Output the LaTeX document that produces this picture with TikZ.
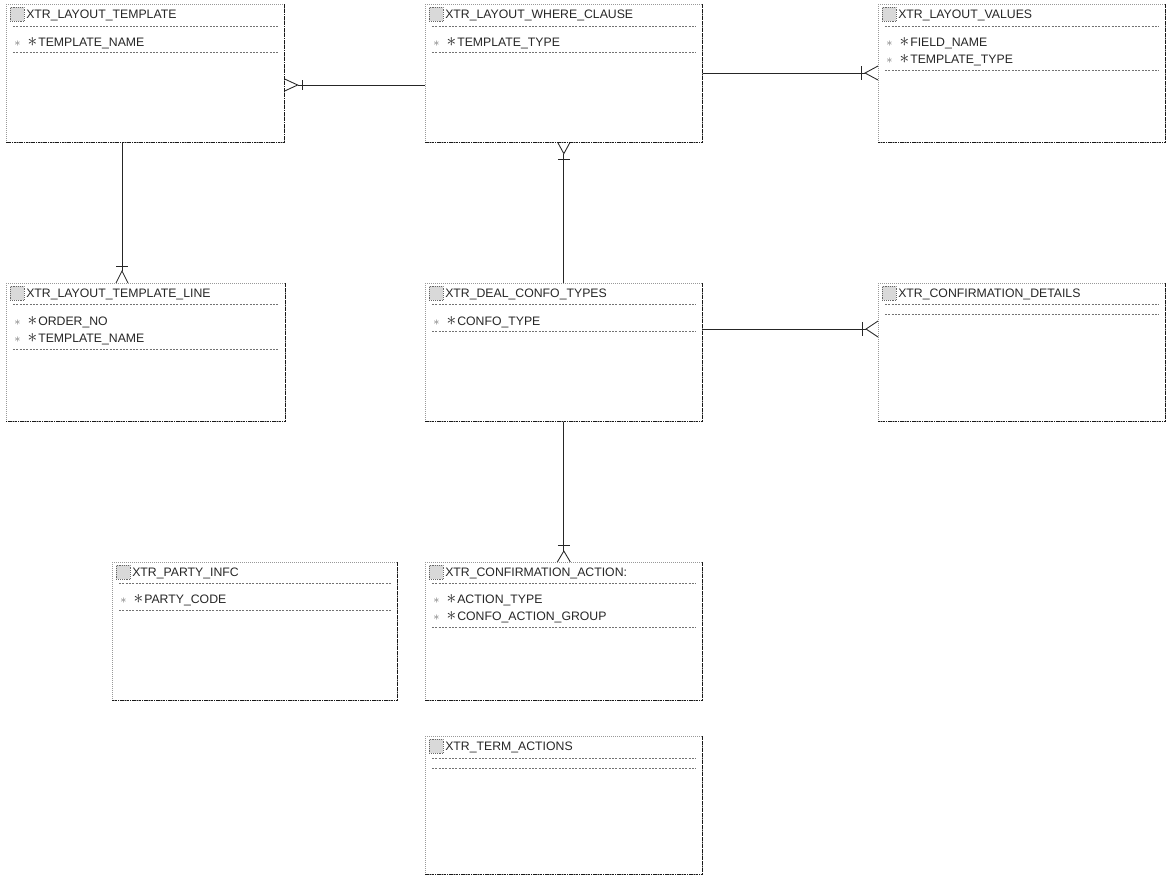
\documentclass[tikz,border=0pt]{standalone}
\usepackage{fontspec}
\setmainfont{Liberation Sans}
\usepackage{tikz}
\usetikzlibrary{calc, positioning}

\newcommand{\pkmark}{\makebox[10pt][l]{\color{black!55}\small$\ast$}\makebox[8pt][l]{\Large$\ast$}}

\begin{document}
\begin{tikzpicture}[x=0.75pt, y=-0.75pt,
    entity/.style={draw=black!40, densely dotted, line width=0.5pt, anchor=north west, inner sep=0pt,
      minimum width=207.75pt, minimum height=103.5pt,
      append after command={(\tikzlastnode.north east) edge[dark edge] (\tikzlastnode.south east)
        (\tikzlastnode.south east) edge[dark edge] (\tikzlastnode.south west)}},
    dark edge/.style={draw=black!90, solid, dash pattern=on 1.3pt off 0.5pt, line width=0.85pt},
    icon/.style={draw=black!60, densely dotted, fill=black!15, anchor=north west, inner sep=0pt, minimum size=10.5pt},
    title/.style={anchor=base west, inner sep=0pt, font=\fontsize{9.2}{11}\selectfont, text=black!85},
    attr/.style={title},
    divider/.style={draw=black!55, dash pattern=on 1.5pt off 1pt, line width=0.4pt},
    rel/.style={draw=black!85, line width=0.65pt}]

    \useasboundingbox (0,0) rectangle (1173,876);

    % Entities
    % XTR_LAYOUT_TEMPLATE
    \node[entity, minimum width=208.5pt] (e1) at (6,4) {};
    \node[icon] (i1) at ($(e1.north west)+(4,3)$) {};
    \node[title] (t1) at ($(e1.north west)+(20,14)$) {XTR\_LAYOUT\_TEMPLATE};
    \draw[divider] ($(e1.north west)+(7,22)$) -- ($(e1.north east)+(-7,22)$);
    \node[attr] (a1) at ($(e1.north west)+(8,42)$) {\pkmark TEMPLATE\_NAME};
    \draw[divider] ($(e1.north west)+(7,48)$) -- ($(e1.north east)+(-7,48)$);

    % XTR_LAYOUT_WHERE_CLAUSE
    \node[entity] (e2) at (425,4) {};
    \node[icon] (i2) at ($(e2.north west)+(4,3)$) {};
    \node[title] (t2) at ($(e2.north west)+(20,14)$) {XTR\_LAYOUT\_WHERE\_CLAUSE};
    \draw[divider] ($(e2.north west)+(7,22)$) -- ($(e2.north east)+(-7,22)$);
    \node[attr] (a2) at ($(e2.north west)+(8,42)$) {\pkmark TEMPLATE\_TYPE};
    \draw[divider] ($(e2.north west)+(7,48)$) -- ($(e2.north east)+(-7,48)$);

    % XTR_LAYOUT_VALUES
    \node[entity, minimum width=215.25pt] (e3) at (878,4) {};
    \node[icon] (i3) at ($(e3.north west)+(4,3)$) {};
    \node[title] (t3) at ($(e3.north west)+(20,14)$) {XTR\_LAYOUT\_VALUES};
    \draw[divider] ($(e3.north west)+(7,22)$) -- ($(e3.north east)+(-7,22)$);
    \node[attr] (a3a) at ($(e3.north west)+(8,42)$) {\pkmark FIELD\_NAME};
    \node[attr] (a3b) at ($(e3.north west)+(8,59)$) {\pkmark TEMPLATE\_TYPE};
    \draw[divider] ($(e3.north west)+(7,66)$) -- ($(e3.north east)+(-7,66)$);

    % XTR_LAYOUT_TEMPLATE_LINE
    \node[entity, minimum width=209.25pt] (e4) at (6,283) {};
    \node[icon] (i4) at ($(e4.north west)+(4,3)$) {};
    \node[title] (t4) at ($(e4.north west)+(20,14)$) {XTR\_LAYOUT\_TEMPLATE\_LINE};
    \draw[divider] ($(e4.north west)+(7,21)$) -- ($(e4.north east)+(-7,21)$);
    \node[attr] (a4a) at ($(e4.north west)+(8,42)$) {\pkmark ORDER\_NO};
    \node[attr] (a4b) at ($(e4.north west)+(8,59)$) {\pkmark TEMPLATE\_NAME};
    \draw[divider] ($(e4.north west)+(7,66)$) -- ($(e4.north east)+(-7,66)$);

    % XTR_DEAL_CONFO_TYPES
    \node[entity] (e5) at (425,283) {};
    \node[icon] (i5) at ($(e5.north west)+(4,3)$) {};
    \node[title] (t5) at ($(e5.north west)+(20,14)$) {XTR\_DEAL\_CONFO\_TYPES};
    \draw[divider] ($(e5.north west)+(7,21)$) -- ($(e5.north east)+(-7,21)$);
    \node[attr] (a5) at ($(e5.north west)+(8,42)$) {\pkmark CONFO\_TYPE};
    \draw[divider] ($(e5.north west)+(7,48)$) -- ($(e5.north east)+(-7,48)$);

    % XTR_CONFIRMATION_DETAILS
    \node[entity, minimum width=215.25pt] (e6) at (878,283) {};
    \node[icon] (i6) at ($(e6.north west)+(4,3)$) {};
    \node[title] (t6) at ($(e6.north west)+(20,14)$) {XTR\_CONFIRMATION\_DETAILS};
    \draw[divider] ($(e6.north west)+(7,21)$) -- ($(e6.north east)+(-7,21)$);
    \draw[divider] ($(e6.north west)+(7,31)$) -- ($(e6.north east)+(-7,31)$);

    % XTR_PARTY_INFC
    \node[entity, minimum width=213.75pt] (e7) at (112,562) {};
    \node[icon] (i7) at ($(e7.north west)+(4,3)$) {};
    \node[title] (t7) at ($(e7.north west)+(20,14)$) {XTR\_PARTY\_INFC};
    \draw[divider] ($(e7.north west)+(7,21)$) -- ($(e7.north east)+(-7,21)$);
    \node[attr] (a7) at ($(e7.north west)+(8,41)$) {\pkmark PARTY\_CODE};
    \draw[divider] ($(e7.north west)+(7,48)$) -- ($(e7.north east)+(-7,48)$);

    % XTR_CONFIRMATION_ACTIONS
    \node[entity] (e8) at (425,562) {};
    \node[icon] (i8) at ($(e8.north west)+(4,3)$) {};
    \node[title] (t8) at ($(e8.north west)+(20,14)$) {XTR\_CONFIRMATION\_ACTION:};
    \draw[divider] ($(e8.north west)+(7,21)$) -- ($(e8.north east)+(-7,21)$);
    \node[attr] (a8a) at ($(e8.north west)+(8,41)$) {\pkmark ACTION\_TYPE};
    \node[attr] (a8b) at ($(e8.north west)+(8,58)$) {\pkmark CONFO\_ACTION\_GROUP};
    \draw[divider] ($(e8.north west)+(7,65)$) -- ($(e8.north east)+(-7,65)$);

    % XTR_TERM_ACTIONS
    \node[entity] (e9) at (425,736) {};
    \node[icon] (i9) at ($(e9.north west)+(4,3)$) {};
    \node[title] (t9) at ($(e9.north west)+(20,14)$) {XTR\_TERM\_ACTIONS};
    \draw[divider] ($(e9.north west)+(7,22)$) -- ($(e9.north east)+(-7,22)$);
    \draw[divider] ($(e9.north west)+(7,32)$) -- ($(e9.north east)+(-7,32)$);

    % Relationships (crow's foot on the many side)
    % layout template -- where clause
    \path (e1.north east) ++(0,81) coordinate (r1a);
    \path (e2.north west) ++(0,81) coordinate (r1b);
    \path (r1a) ++(13,0) coordinate (r1t);
    \draw[rel] (r1t) -- (r1b);
    \draw[rel] ($(r1a)+(0,-6)$) -- (r1t) -- ($(r1a)+(0,6)$);
    \draw[rel] ($(r1t)+(5,-5)$) -- ++(0,10);

    % where clause -- layout values
    \path (e2.north east) ++(0,69) coordinate (r2a);
    \path (e3.north west) ++(0,69) coordinate (r2b);
    \path (r2b) ++(-13,0) coordinate (r2t);
    \draw[rel] (r2a) -- (r2t);
    \draw[rel] ($(r2b)+(0,-7)$) -- (r2t) -- ($(r2b)+(0,7)$);
    \draw[rel] ($(r2t)+(-4,-7)$) -- ++(0,14);

    % where clause -- deal confo types
    \path (e2.south) ++(0,11) coordinate (r3t);
    \draw[rel] (r3t) -- (e5.north);
    \draw[rel] ($(e2.south)+(-6,0)$) -- (r3t) -- ($(e2.south)+(6,0)$);
    \draw[rel] ($(r3t)+(-6,6)$) -- ++(12,0);

    % layout template -- template line
    \path (e1.south west) ++(116,0) coordinate (r4a);
    \path (e4.north west) ++(116,0) coordinate (r4b);
    \path (r4b) ++(0,-12) coordinate (r4t);
    \draw[rel] (r4a) -- (r4t);
    \draw[rel] ($(r4b)+(-6,0)$) -- (r4t) -- ($(r4b)+(6,0)$);
    \draw[rel] ($(r4t)+(-6,-5)$) -- ++(12,0);

    % deal confo types -- confirmation details
    \path (e5.north east) ++(0,46) coordinate (r5a);
    \path (e6.north west) ++(0,46) coordinate (r5b);
    \path (r5b) ++(-12,0) coordinate (r5t);
    \draw[rel] (r5a) -- (r5t);
    \draw[rel] ($(r5b)+(0,-8)$) -- (r5t) -- ($(r5b)+(0,8)$);
    \draw[rel] ($(r5t)+(-4,-7)$) -- ++(0,14);

    % deal confo types -- confirmation actions
    \path (e8.north) ++(0,-11) coordinate (r6t);
    \draw[rel] (e5.south) -- (r6t);
    \draw[rel] ($(e8.north)+(-6.5,0)$) -- (r6t) -- ($(e8.north)+(6.5,0)$);
    \draw[rel] ($(r6t)+(-6,-6)$) -- ++(12,0);

\end{tikzpicture}
\end{document}
